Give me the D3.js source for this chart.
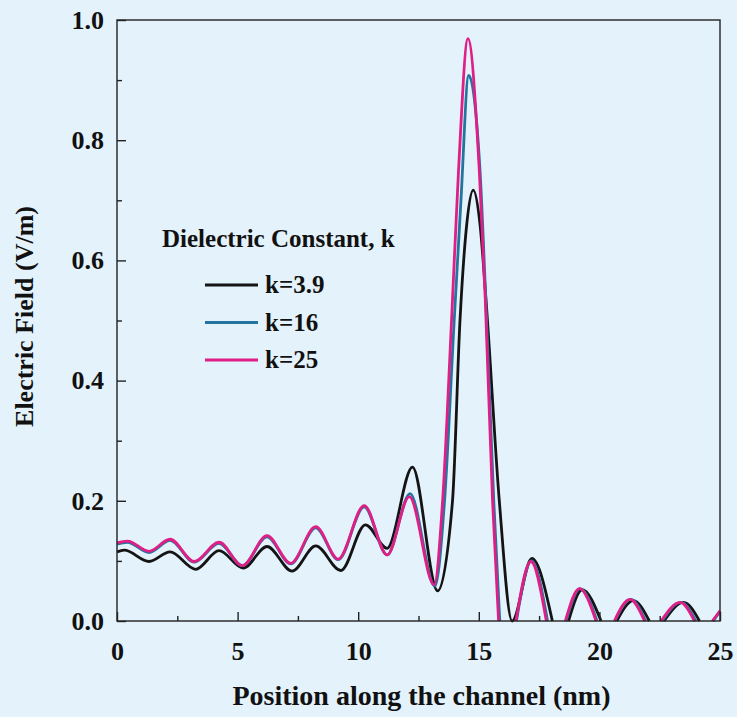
<!DOCTYPE html>
<html>
<head>
<meta charset="utf-8">
<script src="https://cdn.jsdelivr.net/npm/d3@7"></script>
<style>
  body { margin: 0; background: #e4f2fb; }
  svg { display: block; }
  text { font-family: "Liberation Serif", "Times New Roman", serif; font-weight: bold; fill: #111; }
</style>
</head>
<body>
<script>
// data (null = curve clipped below the axis)
var k39Pos   = [0, 0.3, 1.33, 2.2, 3.26, 4.23, 5.23, 6.22, 7.26, 8.24, 9.28, 10.3, 11.2, 12.25, 13.29, 13.91, 14.22, 14.5, 14.77, 15.05, 15.3, 15.85, 16.38, 17.2, 18.05, 18.4, 18.72, 19.28, 20.07, 20.4, 20.72, 21.41, 22.07, 22.4, 22.68, 23.49, 24.15];
var k39Field = [0.115, 0.118, 0.099, 0.115, 0.086, 0.117, 0.088, 0.124, 0.083, 0.125, 0.084, 0.160, 0.121, 0.256, 0.050, 0.200, 0.500, 0.660, 0.717, 0.660, 0.534, 0.200, 0, 0.104, 0, null, 0, 0.052, 0, null, 0, 0.034, 0, null, 0, 0.031, 0];

var k16Pos   = [0, 0.43, 1.33, 2.2, 3.2, 4.23, 5.2, 6.22, 7.2, 8.24, 9.17, 10.25, 11.2, 12.15, 13.18, 13.58, 13.98, 14.26, 14.58, 15.05, 15.29, 15.62, 15.87, 16.2, 16.56, 17.18, 17.85, 18.2, 18.62, 19.2, 19.9, 20.3, 20.64, 21.3, 21.92, 22.3, 22.6, 23.38, 24.0, 24.4, 24.72, 25];
var k16Field = [0.128, 0.131, 0.114, 0.134, 0.098, 0.129, 0.092, 0.140, 0.095, 0.155, 0.102, 0.190, 0.110, 0.212, 0.058, 0.200, 0.500, 0.700, 0.908, 0.750, 0.534, 0.200, 0, null, 0, 0.100, 0, null, 0, 0.054, 0, null, 0, 0.036, 0, null, 0, 0.031, 0, null, 0, 0.016];

var k25Pos   = [0, 0.43, 1.33, 2.2, 3.2, 4.23, 5.2, 6.22, 7.2, 8.24, 9.17, 10.25, 11.2, 12.12, 13.15, 13.5, 13.87, 14.16, 14.55, 15.02, 15.27, 15.57, 15.82, 16.2, 16.54, 17.16, 17.8, 18.2, 18.59, 19.17, 19.86, 20.2, 20.62, 21.27, 21.87, 22.2, 22.56, 23.35, 23.94, 24.3, 24.68, 25];
var k25Field = [0.130, 0.133, 0.116, 0.136, 0.099, 0.131, 0.092, 0.142, 0.096, 0.157, 0.103, 0.192, 0.110, 0.207, 0.060, 0.200, 0.500, 0.750, 0.969, 0.750, 0.534, 0.200, 0, null, 0, 0.099, 0, null, 0, 0.054, 0, null, 0, 0.036, 0, null, 0, 0.031, 0, null, 0, 0.017];

var seriesNames  = ['k=3.9', 'k=16', 'k=25'];
var seriesColors = ['#141414', '#23759f', '#df1f86'];
var legendTitle  = 'Dielectric Constant, k';
var xTicks = [0, 5, 10, 15, 20, 25];
var yTicks = [0, 0.2, 0.4, 0.6, 0.8, 1.0];
var xText = 'Position along the channel (nm)',
    yText = 'Electric Field (V/m)';

var width = 737, height = 717,
    margin = {left: 117, top: 20, right: 17, bottom: 96},
    g_width = width - margin.left - margin.right,
    g_height = height - margin.top - margin.bottom;

var svg = d3.select('body').append('svg')
            .attr('width', width)
            .attr('height', height);
var g = svg.append('g').attr('transform', 'translate(' + margin.left + ',' + margin.top + ')');

var scale_x = d3.scaleLinear().domain([0, 25]).range([0, g_width]);
var scale_y = d3.scaleLinear().domain([0, 1]).range([g_height, 0]);

// lines first (black under the coloured ones)
var line_generator = d3.line()
  .defined(function(d){ return d[1] != null; })
  .x(function(d){ return scale_x(d[0]); })
  .y(function(d){ return scale_y(d[1]); })
  .curve(d3.curveMonotoneX);

var allSeries = [d3.zip(k39Pos, k39Field), d3.zip(k16Pos, k16Field), d3.zip(k25Pos, k25Field)];
allSeries.forEach(function(data, i){
  g.append('path').attr('d', line_generator(data))
   .attr('fill', 'none').attr('stroke', seriesColors[i])
   .attr('stroke-width', 2.8).attr('stroke-linejoin', 'round');
});

// frame
g.append('rect').attr('width', g_width).attr('height', g_height)
 .attr('fill', 'none').attr('stroke', '#222').attr('stroke-width', 1.4);

// axes with inward ticks
var x_axis = d3.axisBottom(scale_x).tickValues(xTicks).tickSize(-9).tickPadding(21).tickFormat(d3.format('d'));
var x_minor = d3.axisBottom(scale_x).tickValues([2.5, 7.5, 12.5, 17.5, 22.5]).tickSize(-5).tickFormat('');
var y_axis = d3.axisLeft(scale_y).tickValues(yTicks).tickSize(-9).tickPadding(13).tickFormat(d3.format('.1f'));
var y_minor = d3.axisLeft(scale_y).tickValues([0.1, 0.3, 0.5, 0.7, 0.9]).tickSize(-5).tickFormat('');

[g.append('g').attr('transform', 'translate(0,' + g_height + ')').call(x_axis),
 g.append('g').attr('transform', 'translate(0,' + g_height + ')').call(x_minor),
 g.append('g').call(y_axis),
 g.append('g').call(y_minor)].forEach(function(ax){
  ax.select('.domain').remove();
  ax.selectAll('line').attr('stroke', '#222').attr('stroke-width', 1.4);
  ax.selectAll('text').attr('fill', '#111').style('font-size', '26px')
    .style('font-family', '"Liberation Serif", serif').style('font-weight', 'bold');
});

g.append('text').text(xText).attr('x', g_width / 2 + 3).attr('y', g_height + 84)
 .attr('text-anchor', 'middle').style('font-size', '28px');
g.append('text').text(yText)
 .attr('transform', 'translate(' + (-84) + ',' + (g_height / 2 - 4) + ') rotate(-90)')
 .attr('text-anchor', 'middle').style('font-size', '26px');

// legend
var lg = svg.append('g').attr('transform', 'translate(162,247)');
lg.append('text').text(legendTitle).style('font-size', '25px');
seriesNames.forEach(function(name, i){
  var y = 38 + i * 37.5;
  lg.append('line').attr('x1', 43).attr('x2', 96).attr('y1', y).attr('y2', y)
    .attr('stroke', seriesColors[i]).attr('stroke-width', 2.8);
  lg.append('text').text(name).attr('x', 103).attr('y', y + 8).style('font-size', '25px');
});
</script>
</body>
</html>
